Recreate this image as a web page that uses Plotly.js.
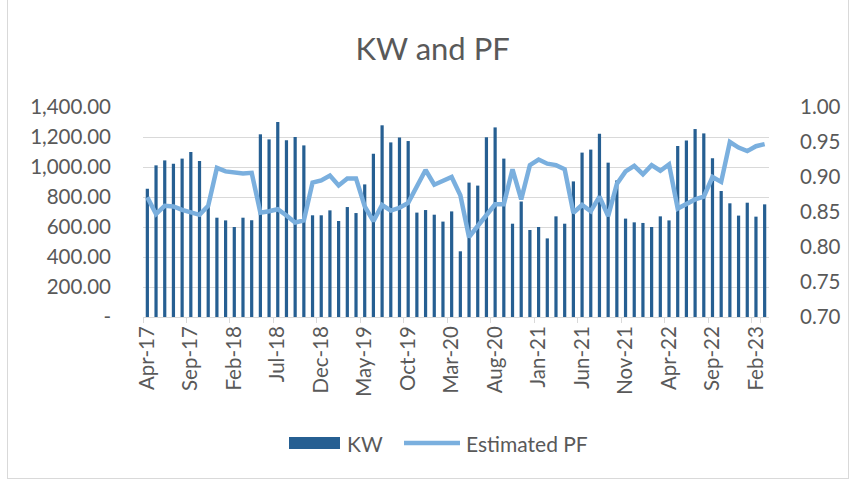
<!DOCTYPE html>
<html>
<head>
<meta charset="utf-8">
<script src="https://cdn.plot.ly/plotly-3.0.1.min.js"></script>
<style>
  html, body { margin: 0; padding: 0; background: #fff; }
  #wrap { position: relative; width: 850px; height: 481px; }
  #chart { position: absolute; left: 0; top: 0; width: 850px; height: 481px; }
  #frame { position: absolute; left: 7px; top: -2px; width: 840px; height: 479px; border: 1px solid #d9d9d9; pointer-events: none; }
</style>
</head>
<body>
<div id="wrap"><div id="chart"></div><div id="frame"></div></div>
<script>
const months = [
  "Apr-17","May-17","Jun-17","Jul-17","Aug-17","Sep-17","Oct-17","Nov-17","Dec-17","Jan-18","Feb-18","Mar-18",
  "Apr-18","May-18","Jun-18","Jul-18","Aug-18","Sep-18","Oct-18","Nov-18","Dec-18","Jan-19","Feb-19","Mar-19",
  "Apr-19","May-19","Jun-19","Jul-19","Aug-19","Sep-19","Oct-19","Nov-19","Dec-19","Jan-20","Feb-20","Mar-20",
  "Apr-20","May-20","Jun-20","Jul-20","Aug-20","Sep-20","Oct-20","Nov-20","Dec-20","Jan-21","Feb-21","Mar-21",
  "Apr-21","May-21","Jun-21","Jul-21","Aug-21","Sep-21","Oct-21","Nov-21","Dec-21","Jan-22","Feb-22","Mar-22",
  "Apr-22","May-22","Jun-22","Jul-22","Aug-22","Sep-22","Oct-22","Nov-22","Dec-22","Jan-23","Feb-23","Mar-23"
];
const kw = [
  855, 1011, 1044, 1022, 1056, 1100, 1040, 745, 662, 644, 600, 662,
  645, 1218, 1184, 1300, 1178, 1200, 1144, 678, 678, 711, 640, 733,
  693, 884, 1089, 1278, 1164, 1196, 1173, 696, 713, 682, 636, 704,
  438, 896, 876, 1198, 1264, 1056, 622, 770, 580, 600, 524, 671,
  622, 904, 1096, 1116, 1222, 1029, 911, 656, 631, 627, 600, 671,
  644, 1140, 1176, 1253, 1224, 1058, 840, 758, 676, 762, 669, 751
];
const pf = [
  0.871, 0.847, 0.859, 0.858, 0.853, 0.849, 0.846, 0.859, 0.913, 0.908, 0.906, 0.905,
  0.906, 0.849, 0.851, 0.854, 0.845, 0.835, 0.838, 0.892, 0.895, 0.902, 0.888, 0.898,
  0.898, 0.858, 0.837, 0.860, 0.852, 0.856, 0.863, 0.888, 0.910, 0.889, 0.894, 0.900,
  0.874, 0.814, 0.830, 0.845, 0.861, 0.861, 0.911, 0.868, 0.917, 0.925, 0.919, 0.917,
  0.911, 0.849, 0.860, 0.851, 0.872, 0.844, 0.890, 0.908, 0.916, 0.904, 0.917, 0.909,
  0.918, 0.855, 0.862, 0.868, 0.872, 0.900, 0.893, 0.950, 0.942, 0.937, 0.944, 0.947
];
const xTickLabels = ["Apr-17","Sep-17","Feb-18","Jul-18","Dec-18","May-19","Oct-19","Mar-20","Aug-20","Jan-21","Jun-21","Nov-21","Apr-22","Sep-22","Feb-23"];
const kwTickVals = [0, 200, 400, 600, 800, 1000, 1200, 1400];
const kwTickText = ["-", "200.00", "400.00", "600.00", "800.00", "1,000.00", "1,200.00", "1,400.00"];
const pfTickVals = [0.70, 0.75, 0.80, 0.85, 0.90, 0.95, 1.00];
const seriesNames = ["KW", "Estimated PF"];

const FONT = "Lato, 'Open Sans', sans-serif";
const GREY = "#595959";
const BAR_COLOR = "#265f92";
const LINE_COLOR = "#7aafde";
const TICK_SIZE = 20.5;

const traces = [
  {
    type: "bar", name: seriesNames[0], x: months, y: kw,
    marker: { color: BAR_COLOR },
    yaxis: "y", hoverinfo: "skip", showlegend: false
  },
  {
    type: "scatter", mode: "lines", name: seriesNames[1], x: months, y: pf,
    line: { color: LINE_COLOR, width: 4.5 },
    yaxis: "y2", hoverinfo: "skip", showlegend: false
  }
];

// custom legend (Excel-style wide swatches) in paper coordinates
const M = { l: 143, r: 81, t: 107, b: 164 };
const PW = 850 - M.l - M.r, PH = 481 - M.t - M.b;
const px = v => (v - M.l) / PW;
const py = v => (481 - M.b - v) / PH;

const layout = {
  width: 850, height: 481,
  margin: { l: M.l, r: M.r, t: M.t, b: M.b, pad: 0 },
  paper_bgcolor: "#ffffff", plot_bgcolor: "#ffffff",
  font: { family: FONT, color: GREY, size: TICK_SIZE },
  title: { text: "KW and PF", font: { family: FONT, size: 31, color: GREY }, x: 0.509, xanchor: "center", y: 0.897, yanchor: "middle" },
  bargap: 0.63,
  showlegend: false,
  xaxis: {
    type: "category",
    tickmode: "array", tickvals: xTickLabels, ticktext: xTickLabels,
    tickson: "boundaries", ticks: "outside", ticklen: 5, tickcolor: "#d9d9d9",
    tickangle: -90, tickfont: { family: FONT, size: TICK_SIZE, color: GREY },
    showline: true, linecolor: "#d9d9d9", linewidth: 1,
    showgrid: false, zeroline: false, fixedrange: true,
    range: [-0.5, 71.5]
  },
  yaxis: {
    range: [0, 1400], tickmode: "array", tickvals: kwTickVals, ticktext: kwTickText,
    showgrid: true, gridcolor: "#d9d9d9", gridwidth: 1, zeroline: false,
    showline: false, ticks: "", tickfont: { family: FONT, size: TICK_SIZE, color: GREY },
    ticklabelstandoff: 31, fixedrange: true
  },
  yaxis2: {
    overlaying: "y", side: "right", range: [0.70, 1.00],
    tickmode: "array", tickvals: pfTickVals, tickformat: ".2f",
    showgrid: false, zeroline: false, showline: false, ticks: "",
    tickfont: { family: FONT, size: TICK_SIZE, color: GREY },
    ticklabelstandoff: 30, fixedrange: true
  },
  shapes: [
    { type: "rect", xref: "paper", yref: "paper", x0: px(289), x1: px(340), y0: py(449), y1: py(437),
      fillcolor: BAR_COLOR, line: { width: 0 } },
    { type: "line", xref: "paper", yref: "paper", x0: px(404), x1: px(460), y0: py(443), y1: py(443),
      line: { color: LINE_COLOR, width: 4.5 } }
  ],
  annotations: [
    { xref: "paper", yref: "paper", x: px(345), y: py(443), xanchor: "left", yanchor: "middle",
      text: seriesNames[0], showarrow: false, font: { family: FONT, size: 21, color: GREY } },
    { xref: "paper", yref: "paper", x: px(464), y: py(443), xanchor: "left", yanchor: "middle",
      text: seriesNames[1], showarrow: false, font: { family: FONT, size: 21, color: GREY } }
  ]
};

Plotly.newPlot("chart", traces, layout, { staticPlot: true, displayModeBar: false });
</script>
</body>
</html>
